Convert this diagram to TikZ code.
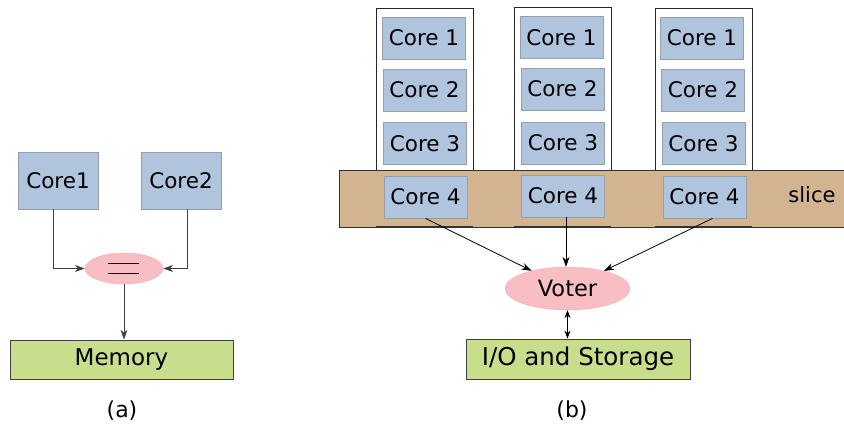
\documentclass[tikz,border=0pt]{standalone}
\usepackage{fontspec}
\setmainfont{DejaVu Sans}
\usetikzlibrary{arrows.meta,shapes.geometric}
\definecolor{coreblue}{RGB}{176,196,222}
\definecolor{coreedge}{RGB}{150,158,168}
\definecolor{votpink}{RGB}{248,190,196}
\definecolor{memgreen}{RGB}{200,222,140}
\definecolor{slicetan}{RGB}{210,180,144}
\tikzset{
  core/.style={draw=coreedge, line width=0.8pt, fill=coreblue, rectangle, inner sep=0pt, font=\fontsize{21.5}{25}\selectfont},
  bigcore/.style={core, minimum width=80pt, minimum height=57pt},
  smallcore/.style={core, minimum width=83pt, minimum height=42pt},
  column/.style={draw=black!85, line width=0.8pt, fill=white, rectangle, inner sep=0pt, minimum width=97pt, minimum height=219pt},
  pinkell/.style={ellipse, fill=votpink, draw=votpink!85!red, line width=0.3pt, inner sep=0pt},
  greenbox/.style={draw=black!75, line width=0.8pt, fill=memgreen, rectangle, inner sep=0pt},
  conn/.style={draw=black!75, line width=0.8pt, -{Stealth[length=10pt,width=7pt]}},
  captext/.style={font=\fontsize{22}{26}\selectfont}
}
\begin{document}
\begin{tikzpicture}[x=1pt,y=-1pt]
\useasboundingbox (0,0) rectangle (844,429);
% (a)
\node[bigcore] (c1) at (58,180.5) {Core1};
\node[bigcore] (c2) at (181,180.5) {Core2};
\node[pinkell, minimum width=78pt, minimum height=31pt] (eq) at (124,268.5) {};
\draw[line width=1.5pt] ([shift={(-16,-5)}]eq.center) coordinate (e1) -- ([shift={(15,-5)}]eq.center) coordinate (e2);
\draw[line width=1.5pt] ([shift={(-16,5)}]eq.center) coordinate (e3) -- ([shift={(15,5)}]eq.center) coordinate (e4);
\node[greenbox, minimum width=223pt, minimum height=39pt, font=\fontsize{23}{27}\selectfont] (mem) at (121.5,359.5) {Memory};
\draw[conn] ([xshift=-5pt]c1.south) |- (eq.west);
\draw[conn] ([xshift=6pt]c2.south) |- (eq.east);
\draw[conn] (eq.south) -- (eq.south |- mem.north);
\node[captext] (la) at (122,411) {(a)};
% (b)
\node[column] (col1) at (424.5,117.5) {};
\node[column] (col2) at (562.5,117) {};
\node[column] (col3) at (703.5,117.5) {};
\node[draw=black!80, line width=0.8pt, fill=slicetan, rectangle, inner sep=0pt, minimum width=505pt, minimum height=57pt] (slice) at (591.5,198.5) {};
\foreach \c in {col1,col2,col3}{
  \draw[line width=2pt, black!80] (\c.south west) -- (\c.south east);
}
\node[font=\fontsize{21}{25}\selectfont] (sl) at (812,195) {slice};
\node[smallcore] (a1) at (424,38) {Core 1};
\node[smallcore] (a2) at (424.5,90) {Core 2};
\node[smallcore] (a3) at (425,143.5) {Core 3};
\node[smallcore] (a4) at (425.5,197) {Core 4};
\node[smallcore] (b1) at (561.5,37.5) {Core 1};
\node[smallcore] (b2) at (562.5,89) {Core 2};
\node[smallcore] (b3) at (563,143) {Core 3};
\node[smallcore] (b4) at (563,196) {Core 4};
\node[smallcore] (d1) at (702,38) {Core 1};
\node[smallcore] (d2) at (703,90) {Core 2};
\node[smallcore] (d3) at (703.5,143.5) {Core 3};
\node[smallcore] (d4) at (704.5,197) {Core 4};
\node[pinkell, minimum width=125pt, minimum height=43pt, font=\fontsize{22.5}{26}\selectfont] (v) at (567.5,288.5) {Voter};
\node[greenbox, minimum width=224pt, minimum height=40pt, font=\fontsize{24.5}{28}\selectfont] (io) at (578,359) {I/O and Storage};
\draw[conn, black] (a4.south) -- (v);
\draw[conn, black] ([xshift=3pt]b4.south) -- ([xshift=3pt]b4.south |- v.north);
\draw[conn, black] ([xshift=8pt]d4.south) -- (v);
\draw[black, line width=0.8pt, {Stealth[length=8pt,width=6pt]}-{Stealth[length=8pt,width=6pt]}] (v.south) -- (v.south |- io.north);
\node[captext] (lb) at (572,411) {(b)};
\end{tikzpicture}
\end{document}
